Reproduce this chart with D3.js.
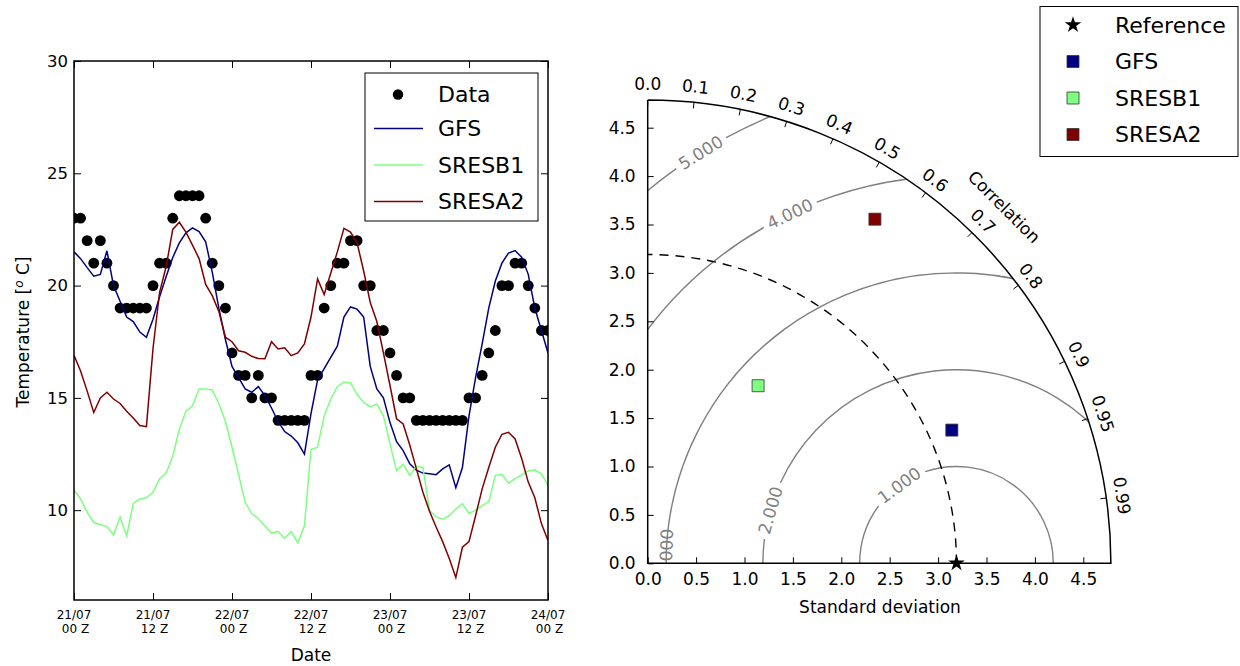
<!DOCTYPE html>
<html>
<head>
<meta charset="utf-8">
<script src="https://cdn.jsdelivr.net/npm/d3@7"></script>
<style>
    body { margin: 0; background: #fff; }
    svg { display: block; font-family: "DejaVu Sans", sans-serif; }
</style>
</head>
<body>
<div id="chart"></div>
<script>
// hourly time axis, 21/07 00 Z .. 24/07 00 Z
var hours = d3.range(0, 73);

var obsTemp = [
    23, 23, 22, 21, 22, 21, 20, 19, 19, 19, 19, 19,
    20, 21, 21, 23, 24, 24, 24, 24, 23, 21, 20, 19,
    17, 16, 16, 15, 16, 15, 15, 14, 14, 14, 14, 14,
    16, 16, 19, 20, 21, 21, 22, 22, 20, 20, 18, 18,
    17, 16, 15, 15, 14, 14, 14, 14, 14, 14, 14, 14,
    15, 15, 16, 17, 18, 20, 20, 21, 21, 20, 19, 18, 18];

var gfsTemp = [
    21.5, 21.2, 20.8, 20.42, 20.5, 21.55, 20.0, 19.3, 18.6, 18.4, 17.93, 17.7,
    18.5, 19.5, 20.4, 21.25, 21.9, 22.35, 22.57, 22.4, 21.95, 20.6, 19.0, 17.6,
    16.4, 15.9, 15.4, 15.25, 15.5, 15.1, 14.55, 13.95, 13.5, 13.3, 13.0, 12.5,
    14.3, 15.8, 16.3, 16.8, 17.3, 18.6, 19.05, 18.95, 18.6, 16.4, 15.4, 15.0,
    13.9, 13.05, 12.65, 12.06, 11.78, 11.65, 11.62, 11.58, 11.84, 12.02, 11.0, 11.9,
    14.2, 15.9, 17.4, 19.0, 20.2, 21.0, 21.45, 21.56, 21.26, 20.5, 19.0, 18.0, 17.0];

var sresb1Temp = [
    10.9, 10.5, 9.9, 9.45, 9.35, 9.27, 8.9, 9.7, 8.85, 10.3, 10.5, 10.55,
    10.8, 11.4, 11.65, 12.4, 13.6, 14.4, 14.65, 15.4, 15.4, 15.35, 14.75, 13.95,
    12.8, 11.6, 10.35, 9.85, 9.62, 9.3, 8.98, 9.05, 8.75, 9.05, 8.55, 9.3,
    12.7, 12.8, 14.2, 14.95, 15.5, 15.7, 15.68, 15.15, 14.8, 14.6, 14.73, 14.2,
    12.95, 11.75, 12.05, 11.55, 11.95, 11.9, 10.0, 9.7, 9.6, 9.75, 10.05, 10.28,
    9.85, 10.0, 10.2, 10.38, 11.55, 11.6, 11.2, 11.4, 11.57, 11.75, 11.8, 11.62, 11.1];

var sresa2Temp = [
    16.9, 16.2, 15.3, 14.35, 15.0, 15.25, 14.95, 14.75, 14.4, 14.1, 13.77, 13.72,
    17.2, 19.7, 20.85, 22.5, 22.82, 22.38, 21.8, 21.2, 20.05, 19.55, 18.85, 17.7,
    17.5, 17.1, 17.03, 16.85, 16.75, 16.74, 17.5, 17.18, 17.23, 16.88, 17.0, 17.4,
    18.6, 20.3, 19.6, 20.55, 21.5, 22.55, 22.38, 21.9, 20.65, 19.25, 18.4, 17.0,
    15.55, 14.07, 13.84, 12.9, 11.85, 10.8, 9.95, 9.25, 8.6, 7.85, 7.0, 8.35,
    8.6, 9.75, 10.95, 11.9, 12.8, 13.38, 13.47, 13.17, 12.3, 11.25, 10.55, 9.4, 8.65];

var modelNames = ["GFS", "SRESB1", "SRESA2"];
var modelColors = ["#000080", "#7fff7f", "#800000"];
var modelTemps = [gfsTemp, sresb1Temp, sresa2Temp];

var dateTicks = [0, 12, 24, 36, 48, 60, 72];
var dateLabels = ["21/07\n00 Z", "21/07\n12 Z", "22/07\n00 Z", "22/07\n12 Z", "23/07\n00 Z", "23/07\n12 Z", "24/07\n00 Z"];
var tempTicks = [10, 15, 20, 25, 30];

// Taylor diagram statistics
var refStd = 3.19;
var modelStd = [3.43, 2.16, 4.26];
var modelCorr = [0.916, 0.528, 0.551];
var rmsLevels = [1, 2, 3, 4, 5];
var corrTicks = [0, 0.1, 0.2, 0.3, 0.4, 0.5, 0.6, 0.7, 0.8, 0.9, 0.95, 0.99];
var stdTicks = [0, 0.5, 1, 1.5, 2, 2.5, 3, 3.5, 4, 4.5];

var svg = d3.select('#chart').append('svg')
    .attr('width', 1240)
    .attr('height', 666);
svg.append('rect').attr('width', 1240).attr('height', 666).attr('fill', '#fff');

// ---------------- time series ----------------
var x = d3.scaleLinear().domain([0, 72]).range([74, 548]);
var y = d3.scaleLinear().domain([6, 30]).range([600, 61]);

svg.append('clipPath').attr('id', 'clipL')
    .append('rect').attr('x', 74).attr('y', 61).attr('width', 474).attr('height', 539);

var plot = svg.append('g').attr('clip-path', 'url(#clipL)');

plot.selectAll('circle.obs')
    .data(obsTemp)
    .enter()
    .append('circle')
    .attr('class', 'obs')
    .attr('cx', function (d, i) { return x(hours[i]); })
    .attr('cy', function (d) { return y(d); })
    .attr('r', 5.4)
    .attr('fill', '#000');

var line = d3.line()
    .x(function (d, i) { return x(hours[i]); })
    .y(function (d) { return y(d); });

modelTemps.forEach(function (vals, k) {
    plot.append('path')
        .datum(vals)
        .attr('d', line)
        .attr('fill', 'none')
        .attr('stroke', modelColors[k])
        .attr('stroke-width', 1.5);
});

// axes, ticks pointing inward on all four sides
function styleAxis(g, fs) {
    g.attr('font-family', null).attr('font-size', fs);
    g.select('.domain').remove();
    g.selectAll('.tick line').attr('stroke-width', 1);
}

svg.append('g')
    .attr('transform', 'translate(74,0)')
    .call(d3.axisLeft(y).tickValues(tempTicks).tickSize(-7).tickPadding(6))
    .call(styleAxis, 16.5);
svg.append('g')
    .attr('transform', 'translate(548,0)')
    .call(d3.axisRight(y).tickValues(tempTicks).tickSize(-7).tickFormat(''))
    .call(styleAxis, 16.5);
svg.append('g')
    .attr('transform', 'translate(0,600)')
    .call(d3.axisBottom(x).tickValues(dateTicks).tickSize(-7).tickFormat(''))
    .call(styleAxis, 12);
svg.append('g')
    .attr('transform', 'translate(0,61)')
    .call(d3.axisTop(x).tickValues(dateTicks).tickSize(-7).tickFormat(''))
    .call(styleAxis, 12);

var dateText = svg.selectAll('text.date')
    .data(dateTicks)
    .enter()
    .append('text')
    .attr('class', 'date')
    .attr('font-size', 12)
    .attr('text-anchor', 'middle');
dateText.each(function (d, i) {
    var t = d3.select(this);
    dateLabels[i].split('\n').forEach(function (s, j) {
        t.append('tspan')
            .attr('x', x(d) + (j ? 1.5 : 0))
            .attr('y', 618.5 + j * 14.5)
            .text(s);
    });
});

svg.append('rect')
    .attr('x', 74).attr('y', 61).attr('width', 474).attr('height', 539)
    .attr('fill', 'none').attr('stroke', '#000').attr('stroke-width', 1.5);

svg.append('text')
    .attr('x', 311).attr('y', 661)
    .attr('text-anchor', 'middle')
    .attr('font-size', 17)
    .text('Date');

var ylab = svg.append('text')
    .attr('transform', 'translate(29,332) rotate(-90)')
    .attr('text-anchor', 'middle')
    .attr('font-size', 17);
ylab.append('tspan').text('Temperature [');
ylab.append('tspan').attr('font-size', 12).attr('font-style', 'italic').attr('dy', -6).text('o');
ylab.append('tspan').attr('dy', 6).text(' C]');

// legend (left)
var legL = svg.append('g').attr('transform', 'translate(365,73)');
legL.append('rect')
    .attr('width', 173).attr('height', 148)
    .attr('fill', '#fff').attr('stroke', '#000').attr('stroke-width', 1);
var legRows = [21.5, 55.5, 92, 128.5];
legL.append('circle').attr('cx', 33).attr('cy', legRows[0]).attr('r', 5.2).attr('fill', '#000');
legL.append('text').attr('x', 73).attr('y', legRows[0]).attr('dy', '0.36em').attr('font-size', 22).text('Data');
modelNames.forEach(function (name, k) {
    legL.append('line')
        .attr('x1', 9).attr('x2', 58)
        .attr('y1', legRows[k + 1]).attr('y2', legRows[k + 1])
        .attr('stroke', modelColors[k]).attr('stroke-width', 1.5);
    legL.append('text')
        .attr('x', 73).attr('y', legRows[k + 1]).attr('dy', '0.36em')
        .attr('font-size', 22)
        .text(name);
});

// ---------------- Taylor diagram ----------------
var ox = 647.7, oy = 563.3, pxPerUnit = 96.8;
var smax = 1.5 * refStd;
var sx = d3.scaleLinear().domain([0, smax]).range([ox, ox + smax * pxPerUnit]);
var sy = d3.scaleLinear().domain([0, smax]).range([oy, oy - smax * pxPerUnit]);
var R = sx(smax) - ox;

function polar(r, th) {
    return [sx(r * Math.cos(th)), sy(r * Math.sin(th))];
}

var quarter = d3.path();
quarter.moveTo(ox, oy);
quarter.lineTo(ox + R, oy);
quarter.arc(ox, oy, R, 0, -Math.PI / 2, true);
quarter.closePath();
svg.append('clipPath').attr('id', 'clipT')
    .append('path').attr('d', quarter.toString());

var taylor = svg.append('g');
var inner = taylor.append('g').attr('clip-path', 'url(#clipT)');

// RMS contours with inline labels (label angle around the reference point, degrees)
var rmsLabelAngle = [126.2, 164.1, 178, 115.5, 121.9];
var rcx = sx(refStd);
rmsLevels.forEach(function (rms, i) {
    var rr = rms * pxPerUnit;
    var phi = rmsLabelAngle[i] * Math.PI / 180;
    var lx = rcx + rr * Math.cos(phi), ly = oy - rr * Math.sin(phi);
    var rot = Math.atan2(Math.cos(phi), Math.sin(phi)) * 180 / Math.PI;
    var lab = inner.append('text')
        .attr('transform', 'translate(' + lx + ',' + ly + ') rotate(' + rot + ')')
        .attr('text-anchor', 'middle')
        .attr('dy', '0.36em')
        .attr('font-size', 17)
        .attr('fill', '#808080')
        .text(d3.format('.3f')(rms));
    var half = (lab.node().getComputedTextLength() / 2 + 5) / rr;
    var p = d3.path();
    p.moveTo(rcx + rr, oy);
    p.arc(rcx, oy, rr, 0, -(phi - half), true);
    p.moveTo(rcx + rr * Math.cos(phi + half), oy - rr * Math.sin(phi + half));
    p.arc(rcx, oy, rr, -(phi + half), -Math.PI, true);
    inner.append('path')
        .attr('d', p.toString())
        .attr('fill', 'none')
        .attr('stroke', '#808080')
        .attr('stroke-width', 1.4);
});

// reference standard deviation (dashed)
var refArc = d3.path();
refArc.moveTo(sx(refStd), oy);
refArc.arc(ox, oy, sx(refStd) - ox, 0, -Math.PI / 2, true);
taylor.append('path')
    .attr('d', refArc.toString())
    .attr('fill', 'none')
    .attr('stroke', '#000')
    .attr('stroke-width', 1.4)
    .attr('stroke-dasharray', '9,7');

// std axes
taylor.append('g')
    .attr('transform', 'translate(0,' + oy + ')')
    .call(d3.axisBottom(sx).tickValues(stdTicks).tickSize(-6).tickPadding(10).tickFormat(d3.format('.1f')))
    .call(styleAxis, 17);
taylor.append('g')
    .attr('transform', 'translate(' + ox + ',0)')
    .call(d3.axisLeft(sy).tickValues(stdTicks).tickSize(-6).tickPadding(12).tickFormat(d3.format('.1f')))
    .call(styleAxis, 17);

var outer = d3.path();
outer.moveTo(ox, oy - R);
outer.lineTo(ox, oy);
outer.lineTo(ox + R, oy);
outer.arc(ox, oy, R, 0, -Math.PI / 2, true);
taylor.append('path')
    .attr('d', outer.toString())
    .attr('fill', 'none')
    .attr('stroke', '#000')
    .attr('stroke-width', 1.5);

// correlation ticks and labels
corrTicks.forEach(function (c) {
    var th = Math.acos(c);
    var a = polar(smax, th);
    var b = polar(smax - 6 / pxPerUnit, th);
    taylor.append('line')
        .attr('x1', a[0]).attr('y1', a[1]).attr('x2', b[0]).attr('y2', b[1])
        .attr('stroke', '#000').attr('stroke-width', 1);
    var l = polar(smax + 16 / pxPerUnit, th);
    taylor.append('text')
        .attr('transform', 'translate(' + l[0] + ',' + l[1] + ') rotate(' + (90 - th * 180 / Math.PI) + ')')
        .attr('text-anchor', 'middle')
        .attr('dy', '0.36em')
        .attr('font-size', 17)
        .text(c === 0 ? '0.0' : String(c));
});

var cl = polar(smax + 41 / pxPerUnit, Math.PI / 4);
taylor.append('text')
    .attr('transform', 'translate(' + cl[0] + ',' + cl[1] + ') rotate(45)')
    .attr('text-anchor', 'middle')
    .attr('dy', '0.36em')
    .attr('font-size', 17)
    .text('Correlation');

taylor.append('text')
    .attr('x', 880).attr('y', 613)
    .attr('text-anchor', 'middle')
    .attr('font-size', 17)
    .text('Standard deviation');

// samples
var square = d3.symbol().type(d3.symbolSquare).size(144);
var star = d3.symbol().type(d3.symbolStar).size(85);

modelNames.forEach(function (name, k) {
    var pt = polar(modelStd[k], Math.acos(modelCorr[k]));
    taylor.append('path')
        .attr('d', square)
        .attr('transform', 'translate(' + pt[0] + ',' + pt[1] + ')')
        .attr('fill', modelColors[k])
        .attr('stroke', '#333')
        .attr('stroke-width', 0.8);
});
taylor.append('path')
    .attr('d', star)
    .attr('transform', 'translate(' + sx(refStd) + ',' + oy + ')')
    .attr('fill', '#000');

// legend (right)
var legR = svg.append('g').attr('transform', 'translate(1040,6.5)');
legR.append('rect')
    .attr('width', 198).attr('height', 150)
    .attr('fill', '#fff').attr('stroke', '#000').attr('stroke-width', 1);
var legRRows = [18.5, 55, 91.5, 128];
legR.append('path').attr('d', star).attr('transform', 'translate(33,' + legRRows[0] + ')').attr('fill', '#000');
legR.append('text').attr('x', 75).attr('y', legRRows[0]).attr('dy', '0.36em').attr('font-size', 22).text('Reference');
modelNames.forEach(function (name, k) {
    legR.append('path')
        .attr('d', square)
        .attr('transform', 'translate(33,' + legRRows[k + 1] + ')')
        .attr('fill', modelColors[k])
        .attr('stroke', '#333')
        .attr('stroke-width', 0.8);
    legR.append('text')
        .attr('x', 75).attr('y', legRRows[k + 1]).attr('dy', '0.36em')
        .attr('font-size', 22)
        .text(name);
});
</script>
</body>
</html>
